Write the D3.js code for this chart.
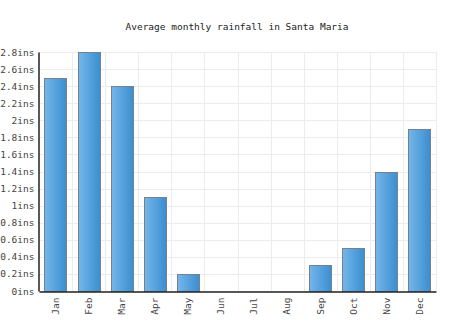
<!DOCTYPE html>
<html><head><meta charset="utf-8">
<script src="https://cdn.jsdelivr.net/npm/d3@7"></script>
<style>body{margin:0;background:#fff}svg{display:block}text{font-family:"DejaVu Sans Mono",monospace}</style>
</head><body>
<script>
const months = ["Jan","Feb","Mar","Apr","May","Jun","Jul","Aug","Sep","Oct","Nov","Dec"];
const rainfall = [2.5,2.8,2.4,1.1,0.2,0,0,0,0.3,0.5,1.4,1.9];
const yTicks = [0,0.2,0.4,0.6,0.8,1,1.2,1.4,1.6,1.8,2,2.2,2.4,2.6,2.8];
const title = "Average monthly rainfall in Santa Maria";

const W=474,H=331,m={l:39,r:38,t:52,b:40};
const svg=d3.select("body").append("svg").attr("width",W).attr("height",H);
const defs=svg.append("defs");
const g=defs.append("linearGradient").attr("id","bg").attr("x1",0).attr("x2",1).attr("y1",0).attr("y2",0);
g.append("stop").attr("offset","0%").attr("stop-color","#74b6ea");
g.append("stop").attr("offset","100%").attr("stop-color","#3a8ed0");

const x=d3.scaleBand().domain(months).range([m.l,W-m.r]).paddingInner(0.33).paddingOuter(0.165);
const xb=d3.scaleBand().domain(months).range([m.l,W-m.r]);
const y=d3.scaleLinear().domain([0,2.8]).range([H-m.b,m.t]);

// grid
svg.append("g").selectAll("line").data(yTicks).join("line")
 .attr("x1",m.l).attr("x2",W-m.r).attr("y1",d=>Math.round(y(d))+0.5).attr("y2",d=>Math.round(y(d))+0.5)
 .attr("stroke","#ececec");
svg.append("g").selectAll("line").data(months).join("line")
 .attr("x1",d=>Math.round(xb(d)+xb.bandwidth())+0.5).attr("x2",d=>Math.round(xb(d)+xb.bandwidth())+0.5)
 .attr("y1",m.t).attr("y2",H-m.b).attr("stroke","#ececec");

// bars
svg.append("g").selectAll("rect").data(months.map((mo,i)=>({mo,v:rainfall[i]})).filter(d=>d.v>0)).join("rect")
 .attr("x",d=>Math.round(x(d.mo))+0.5).attr("width",Math.round(x.bandwidth()))
 .attr("y",d=>Math.round(y(d.v))+0.5).attr("height",d=>Math.round(y(0))-Math.round(y(d.v)))
 .attr("fill","url(#bg)").attr("stroke","#75828d").attr("stroke-width",1);

// y axis
const ya=svg.append("g").attr("transform",`translate(${m.l-0.5},0)`)
 .call(d3.axisLeft(y).tickValues(yTicks).tickSize(0).tickPadding(4).tickFormat(d=>d3.format("~g")(d)+"ins"));
ya.select(".domain").attr("stroke","#222").attr("stroke-width",1.5);
ya.selectAll("text").attr("font-size",9.5).attr("fill","#444").attr("font-family","DejaVu Sans Mono");

// x axis
const xa=svg.append("g").attr("transform",`translate(0,${H-m.b+0.5})`)
 .call(d3.axisBottom(xb).tickSize(0).tickPadding(6));
xa.select(".domain").attr("stroke","#222").attr("stroke-width",1.5);
xa.selectAll("text").attr("font-size",9.5).attr("fill","#444").attr("font-family","DejaVu Sans Mono")
 .attr("transform","rotate(-90)").attr("text-anchor","end").attr("dy","0.35em").attr("x",-6).attr("y",0);

svg.append("text").attr("x",237).attr("y",30).attr("text-anchor","middle")
 .attr("font-size",9.5).attr("fill","#222").text(title);
</script>
</body></html>
